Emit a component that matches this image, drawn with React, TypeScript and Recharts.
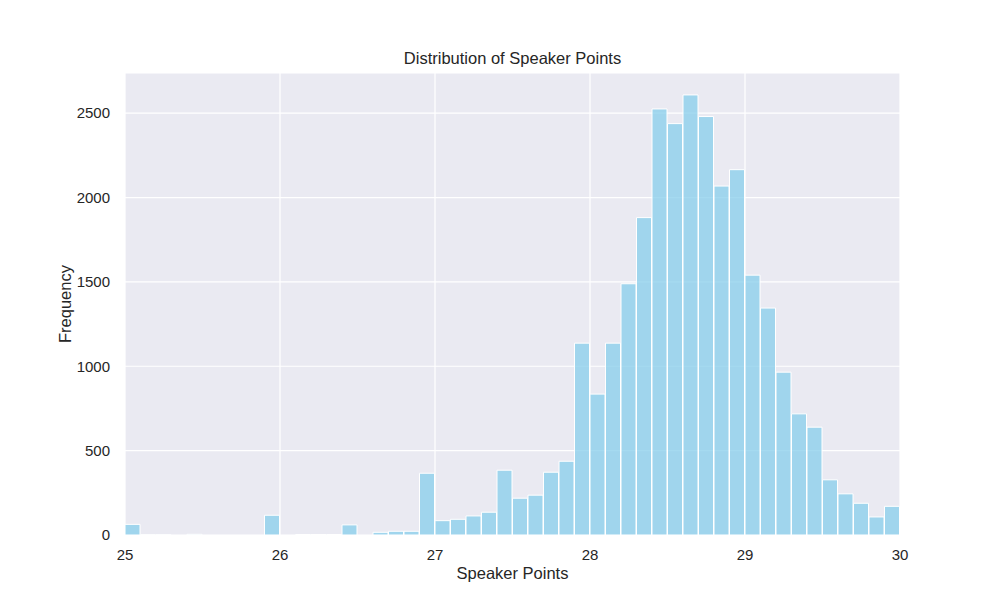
import React from "react";
import { BarChart, Bar, XAxis, YAxis, CartesianGrid } from "recharts";

// histogram bins of width 0.1 from 25.0 to 30.0 (left edges)
const binStarts = [
  25.0, 25.1, 25.2, 25.3, 25.4, 25.5, 25.6, 25.7, 25.8, 25.9,
  26.0, 26.1, 26.2, 26.3, 26.4, 26.5, 26.6, 26.7, 26.8, 26.9,
  27.0, 27.1, 27.2, 27.3, 27.4, 27.5, 27.6, 27.7, 27.8, 27.9,
  28.0, 28.1, 28.2, 28.3, 28.4, 28.5, 28.6, 28.7, 28.8, 28.9,
  29.0, 29.1, 29.2, 29.3, 29.4, 29.5, 29.6, 29.7, 29.8, 29.9,
];
const frequencies = [
  63, 2, 2, 0, 4, 0, 0, 0, 0, 117,
  0, 3, 3, 3, 60, 0, 16, 22, 22, 366,
  85, 93, 113, 135, 384, 218, 236, 372, 437, 1137,
  835, 1137, 1489, 1881, 2525, 2438, 2608, 2480, 2068, 2165,
  1540, 1345, 965, 718, 639, 327, 244, 188, 107, 170,
];
const binWidth = 0.1;
const xTicks = [25, 26, 27, 28, 29, 30];
const yTicks = [0, 500, 1000, 1500, 2000, 2500];

const data = binStarts.map((start, i) => ({
  mid: +(start + binWidth / 2).toFixed(2),
  count: frequencies[i],
}));

const FONT = "Arial, 'Liberation Sans', sans-serif";
const TEXT = "#262626";

export default function App() {
  return (
    <div style={{ position: "absolute", left: 0, top: 0, width: 1000, height: 600, background: "#fff", fontFamily: FONT }}>
      <BarChart
        width={1000}
        height={600}
        data={data}
        barCategoryGap={0}
        margin={{ top: 73, right: 100, bottom: 35, left: 0 }}
      >
        <CartesianGrid stroke="#ffffff" strokeWidth={1.2} fill="#EAEAF2" />
        <XAxis
          dataKey="mid"
          type="number"
          domain={[25, 30]}
          ticks={xTicks}
          allowDataOverflow
          axisLine={false}
          tickLine={false}
          tickSize={0}
          tickMargin={14}
          height={30}
          tick={{ fill: TEXT, fontSize: 15, fontFamily: FONT }}
        />
        <YAxis
          domain={[0, 2738]}
          ticks={yTicks}
          allowDataOverflow
          axisLine={false}
          tickLine={false}
          tickSize={0}
          tickMargin={15}
          width={125}
          tick={{ fill: TEXT, fontSize: 15, fontFamily: FONT }}
        />
        <Bar
          dataKey="count"
          fill="#87CEEB"
          fillOpacity={0.75}
          stroke="#ffffff"
          strokeWidth={1}
          isAnimationActive={false}
        />
        <text x={512.5} y={64} textAnchor="middle" fill={TEXT} fontSize={16.5} fontFamily={FONT}>
          Distribution of Speaker Points
        </text>
        <text x={512.5} y={579} textAnchor="middle" fill={TEXT} fontSize={16.5} fontFamily={FONT}>
          Speaker Points
        </text>
        <text
          x={71}
          y={304}
          textAnchor="middle"
          fill={TEXT}
          fontSize={16.5}
          fontFamily={FONT}
          transform="rotate(-90 71 304)"
        >
          Frequency
        </text>
      </BarChart>
    </div>
  );
}
